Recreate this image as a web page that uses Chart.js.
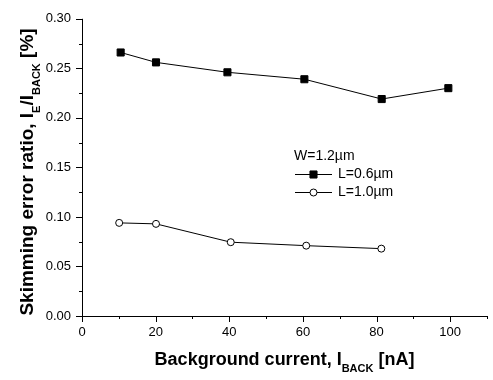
<!DOCTYPE html>
<html>
<head>
<meta charset="utf-8">
<script src="https://cdn.jsdelivr.net/npm/chart.js@4.4.1/dist/chart.umd.min.js"></script>
<style>
  html, body { margin: 0; padding: 0; background: #fff; }
  #wrap { width: 493px; height: 380px; }
</style>
</head>
<body>
<div id="wrap"><canvas id="chart0"></canvas></div>
<script>
// values
var currentL06 = [10.5, 20.1, 39.5, 60.4, 81.4, 99.5];
var ratioL06   = [0.266, 0.256, 0.246, 0.239, 0.219, 0.230];
var currentL10 = [10.1, 20.1, 40.4, 60.9, 81.3];
var ratioL10   = [0.094, 0.093, 0.0745, 0.071, 0.068];
var xTicks = [0, 20, 40, 60, 80, 100];
var yTicks = [0.00, 0.05, 0.10, 0.15, 0.20, 0.25, 0.30];
var legendHeader = 'W=1.2\u00b5m';
var seriesNames = ['L=0.6\u00b5m', 'L=1.0\u00b5m'];

var FONT = 'Arial, "Liberation Sans", sans-serif';

function toPoints(xs, ys) {
  return xs.map(function (x, i) { return { x: x, y: ys[i] }; });
}

function midpoints(arr) {
  var out = [];
  for (var i = 0; i < arr.length - 1; i++) out.push((arr[i] + arr[i + 1]) / 2);
  out.push(arr[arr.length - 1] + (arr[1] - arr[0]) / 2);
  return out;
}

// draws text made of normal + subscript pieces, centred on 0
function drawPieces(ctx, pieces, size, subSize, subDrop) {
  var total = 0;
  pieces.forEach(function (p) {
    ctx.font = 'bold ' + (p.sub ? subSize : size) + 'px ' + FONT;
    p.w = ctx.measureText(p.t).width;
    total += p.w;
  });
  var x = -total / 2;
  pieces.forEach(function (p) {
    ctx.font = 'bold ' + (p.sub ? subSize : size) + 'px ' + FONT;
    ctx.fillText(p.t, x, p.sub ? subDrop : 0);
    x += p.w;
  });
}

var axesPlugin = {
  id: 'axesPlugin',
  afterDraw: function (chart) {
    var ctx = chart.ctx, a = chart.chartArea;
    var xs = chart.scales.x, ys = chart.scales.y;
    ctx.save();
    ctx.strokeStyle = '#000';
    ctx.lineWidth = 1;
    ctx.beginPath();
    ctx.moveTo(a.left + 0.5, a.top);
    ctx.lineTo(a.left + 0.5, a.bottom + 0.5);
    ctx.lineTo(a.right, a.bottom + 0.5);
    // major + minor ticks, pointing out
    xTicks.forEach(function (v) {
      var px = Math.round(xs.getPixelForValue(v)) + 0.5;
      ctx.moveTo(px, a.bottom); ctx.lineTo(px, a.bottom + 6);
    });
    midpoints(xTicks).forEach(function (v) {
      var px = Math.round(xs.getPixelForValue(v)) + 0.5;
      ctx.moveTo(px, a.bottom); ctx.lineTo(px, a.bottom + 3);
    });
    yTicks.forEach(function (v) {
      var py = Math.round(ys.getPixelForValue(v)) + 0.5;
      ctx.moveTo(a.left, py); ctx.lineTo(a.left - 6, py);
    });
    midpoints(yTicks).slice(0, -1).forEach(function (v) {
      var py = Math.round(ys.getPixelForValue(v)) + 0.5;
      ctx.moveTo(a.left, py); ctx.lineTo(a.left - 3, py);
    });
    ctx.stroke();

    ctx.fillStyle = '#000';
    ctx.textBaseline = 'alphabetic';
    ctx.textAlign = 'left';
    // x title
    ctx.save();
    ctx.translate((a.left + a.right) / 2, 365);
    drawPieces(ctx, [
      { t: 'Background current, I' }, { t: 'BACK', sub: true }, { t: ' [nA]' }
    ], 18, 11, 7);
    ctx.restore();
    // y title
    ctx.save();
    ctx.translate(33, 172);
    ctx.rotate(-Math.PI / 2);
    drawPieces(ctx, [
      { t: 'Skimming error ratio, I' }, { t: 'E', sub: true }, { t: '/I' },
      { t: 'BACK', sub: true }, { t: ' [%]' }
    ], 19, 11, 7);
    ctx.restore();

    // legend
    ctx.font = '14px ' + FONT;
    ctx.textBaseline = 'middle';
    ctx.fillText(legendHeader, 294, 156);
    var rows = [174, 192];
    chart.data.datasets.forEach(function (ds, i) {
      var y = rows[i];
      ctx.beginPath();
      ctx.strokeStyle = ds.borderColor;
      ctx.lineWidth = 1;
      ctx.moveTo(295, y + 0.5); ctx.lineTo(332, y + 0.5);
      ctx.stroke();
      ctx.fillStyle = ds.pointBackgroundColor;
      ctx.strokeStyle = ds.pointBorderColor;
      Chart.helpers.drawPoint(ctx, {
        pointStyle: ds.pointStyle, radius: ds.pointRadius,
        borderWidth: 1, rotation: 0
      }, 313.5, y + 0.5);
      ctx.fillStyle = '#000';
      ctx.fillText(seriesNames[i], 338, y);
    });
    ctx.restore();
  }
};

var ctx = document.getElementById('chart0').getContext('2d');
var chart = new Chart(ctx, {
  type: 'scatter',
  data: {
    datasets: [{
      label: seriesNames[0],
      data: toPoints(currentL06, ratioL06),
      showLine: true,
      borderColor: '#000',
      borderWidth: 1,
      pointStyle: 'rect',
      pointRadius: 5,
      pointBackgroundColor: '#000',
      pointBorderColor: '#000',
      pointBorderWidth: 1
    }, {
      label: seriesNames[1],
      data: toPoints(currentL10, ratioL10),
      showLine: true,
      borderColor: '#000',
      borderWidth: 1,
      pointStyle: 'circle',
      pointRadius: 3.5,
      pointBackgroundColor: '#fff',
      pointBorderColor: '#000',
      pointBorderWidth: 1
    }]
  },
  options: {
    responsive: true,
    maintainAspectRatio: false,
    animation: false,
    layout: { padding: { top: 10, right: 4, left: 0, bottom: 0 } },
    plugins: { legend: { display: false }, tooltip: { enabled: false } },
    scales: {
      x: {
        type: 'linear', min: 0, max: 110,
        grid: { display: false, drawTicks: false },
        border: { display: false },
        afterBuildTicks: function (s) { s.ticks = xTicks.map(function (v) { return { value: v }; }); },
        afterFit: function (s) { s.height = 64; },
        ticks: { color: '#000', padding: 9, maxRotation: 0, font: { size: 13, family: FONT },
          callback: function (v) { return String(v); } }
      },
      y: {
        type: 'linear', min: 0, max: 0.30,
        grid: { display: false, drawTicks: false },
        border: { display: false },
        afterBuildTicks: function (s) { s.ticks = yTicks.map(function (v) { return { value: v }; }); },
        afterFit: function (s) { s.width = 82; },
        ticks: { color: '#000', padding: 11, font: { size: 13, family: FONT },
          callback: function (v) { return v.toFixed(2); } }
      }
    }
  },
  plugins: [axesPlugin]
});
</script>
</body>
</html>
